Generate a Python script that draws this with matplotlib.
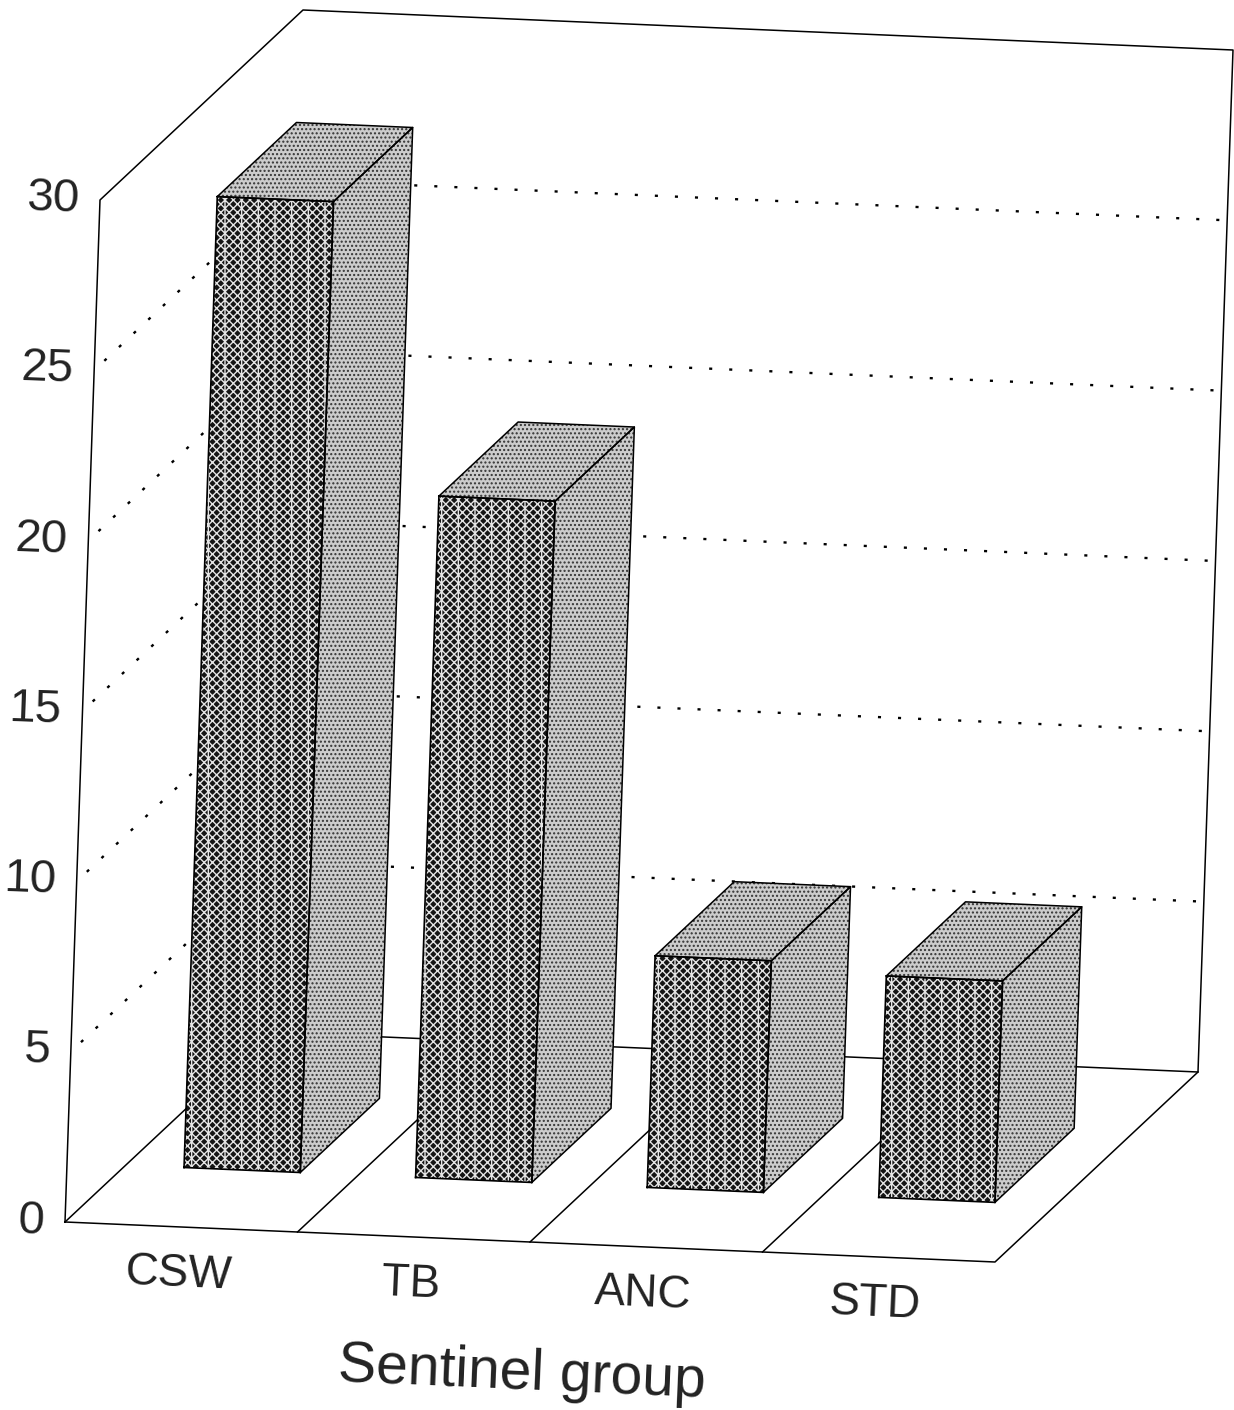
import matplotlib
matplotlib.use("Agg")
import matplotlib.pyplot as plt
from matplotlib.patches import Polygon

categories = ["CSW", "TB", "ANC", "STD"]
values = [28.5, 20.0, 6.8, 6.5]
ticks = [0, 5, 10, 15, 20, 25, 30]
grid_ticks = [5, 10, 15, 20, 25]
xlabel = "Sentinel group"

W, H = 1234, 1410
fig = plt.figure(figsize=(W / 100, H / 100), dpi=100)
ax = fig.add_axes([0, 0, 1, 1])
ax.set_xlim(0, W)
ax.set_ylim(H, 0)
ax.axis("off")
plt.rcParams["hatch.linewidth"] = 1.0

O = (65, 1222)
XV = (930, 40)
ZV = (35 / 30, -1022 / 30)
DV = (203, -190)


def P(a, v, d):
    return (O[0] + a * XV[0] + v * ZV[0] + d * DV[0],
            O[1] + a * XV[1] + v * ZV[1] + d * DV[1])


def line(pts, **kw):
    xs, ys = zip(*pts)
    ax.plot(xs, ys, color="black", **kw)


# walls and floor
line([P(0, 0, 0), P(0, 30, 0), P(0, 30, 1), P(1, 30, 1), P(1, 0, 1), P(1, 0, 0), P(0, 0, 0)], lw=1.1)
line([P(0, 0, 1), P(1, 0, 1)], lw=1.1)
line([P(0, 0, 0), P(0, 0, 1)], lw=1.1)
for i in range(1, 4):
    a = i / len(categories)
    line([P(a, 0, 0), P(a, 0, 0.6)], lw=1.1)

# grid
for v in grid_ticks:
    line([P(0, v, 0.05), P(0, v, 1), P(1, v, 1)], lw=1.7, ls=(0, (1.3, 7.2)))

# bars
n = len(categories)
pitch = 0.249
for i, (c, v) in enumerate(zip(categories, values)):
    a0 = 0.0625 + i * pitch
    a1 = a0 + 0.125
    d0, d1 = 0.30, 0.69
    side = [P(a1, 0, d0), P(a1, 0, d1), P(a1, v, d1), P(a1, v, d0)]
    top = [P(a0, v, d0), P(a1, v, d0), P(a1, v, d1), P(a0, v, d1)]
    front = [P(a0, 0, d0), P(a1, 0, d0), P(a1, v, d0), P(a0, v, d0)]
    for poly in (side, top):
        ax.add_patch(Polygon(poly, facecolor="#cccccc", edgecolor="#333333", lw=0,
                             hatch="....", zorder=3))
        line(poly + poly[:1], lw=1.1, zorder=5)
    ax.add_patch(Polygon(front, facecolor="#141414", edgecolor="#e4e4e4", lw=0,
                         hatch="xxxx|", zorder=4))
    line(front + front[:1], lw=1.2, zorder=5)

FONT = ["Liberation Sans", "DejaVu Sans"]
for v in ticks:
    x, y = P(0, v, 0)
    ax.text(x - 20, y - 1, str(v), ha="right", va="center", fontsize=34,
            family=FONT, rotation=-2, color="#222222")

for i, c in enumerate(categories):
    x, y = P((i + 0.5) / n, 0, 0)
    ax.text(x - 3, y + 47, c, ha="center", va="center", fontsize=33,
            family=FONT, rotation=-2.5, color="#222222")

ax.text(522, 1374, xlabel, ha="center", va="center", fontsize=41,
        family=FONT, rotation=-2.5, color="#222222")

fig.savefig("out.png", dpi=100)
